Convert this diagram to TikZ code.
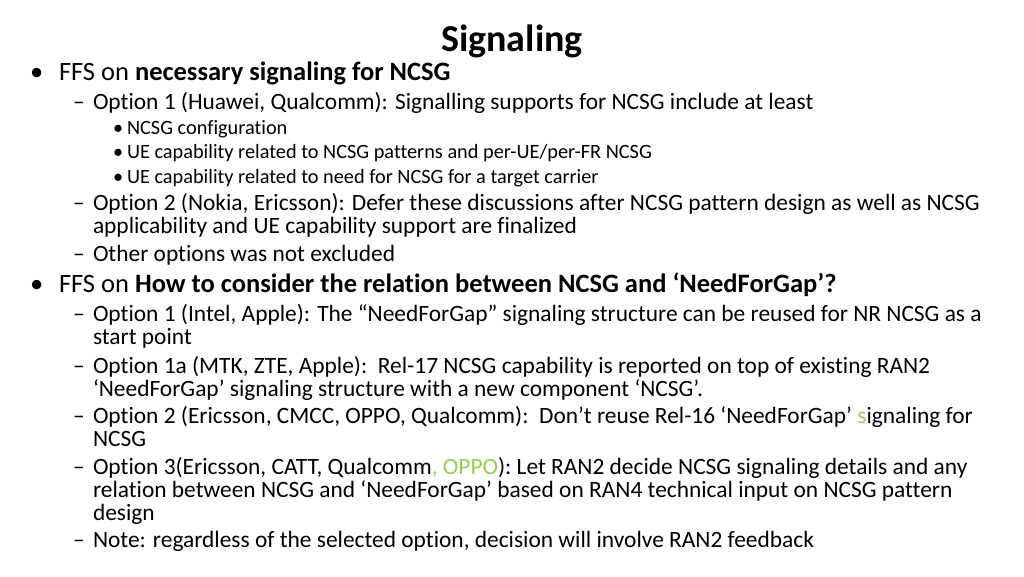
\documentclass[tikz,border=0pt]{standalone}
\usepackage{fontspec}
\setmainfont{Carlito}[Ligatures=NoCommon]
\definecolor{tgreen}{HTML}{92D050}
\begin{document}
\begin{tikzpicture}[x=1pt,y=-1pt,
  t/.style={anchor=base west,inner sep=0pt,outer sep=0pt},
  la/.style={t,font=\fontsize{26.5}{30}\selectfont},
  lb/.style={t,font=\fontsize{23.4}{26}\selectfont},
  lc/.style={t,font=\fontsize{20.3}{23}\selectfont}]
\useasboundingbox (0,0) rectangle (1024,576);
\node[anchor=base,inner sep=0pt,font=\fontsize{38}{42}\selectfont\bfseries] (title) at (512,51) {Signaling};
% level 1
\node[la] (b1) at (30,80) {•};
\node[la] (l1) at (59,80) {FFS on \textbf{necessary signaling for NCSG}};
\node[lb] (d1) at (73,109) {–};
\node[lb] (l2) at (93,109) {Option 1 (Huawei, Qualcomm): Signalling supports for NCSG include at least};
\node[lc] (b3) at (113,134) {•};
\node[lc] (l3) at (127,134) {NCSG configuration};
\node[lc] (b4) at (113,158) {•};
\node[lc] (l4) at (127,158) {UE capability related to NCSG patterns and per-UE/per-FR NCSG};
\node[lc] (b5) at (113,183) {•};
\node[lc] (l5) at (127,183) {UE capability related to need for NCSG for a target carrier};
\node[lb] (d2) at (73,210) {–};
\node[lb] (l6) at (93,210) {Option 2 (Nokia, Ericsson): Defer these discussions after NCSG pattern design as well as NCSG};
\node[lb] (l7) at (93,233) {applicability and UE capability support are finalized};
\node[lb] (d3) at (73,261) {–};
\node[lb] (l8) at (93,261) {Other options was not excluded};
% level 1 second
\node[la] (b2) at (30,292) {•};
\node[la] (l9) at (59,292) {FFS on \textbf{How to consider the relation between NCSG and ‘NeedForGap’?}};
\node[lb] (d4) at (73,321) {–};
\node[lb] (l10) at (93,321) {Option 1 (Intel, Apple): The “NeedForGap” signaling structure can be reused for NR NCSG as a};
\node[lb] (l11) at (93,344) {start point};
\node[lb] (d5) at (73,373) {–};
\node[lb] (l12) at (93,373) {Option 1a (MTK, ZTE, Apple):\ \ Rel-17 NCSG capability is reported on top of existing RAN2};
\node[lb] (l13) at (93,396) {‘NeedForGap’ signaling structure with a new component ‘NCSG’.};
\node[lb] (d6) at (73,423) {–};
\node[lb] (l14) at (93,423) {Option 2 (Ericsson, CMCC, OPPO, Qualcomm):\ \ Don’t reuse Rel-16 ‘NeedForGap’ \textcolor{tgreen}{s}ignaling for};
\node[lb] (l15) at (93,446) {NCSG};
\node[lb] (d7) at (73,474) {–};
\node[lb] (l16) at (93,474) {Option 3(Ericsson, CATT, Qualcomm\textcolor{tgreen}{, OPPO}): Let RAN2 decide NCSG signaling details and any};
\node[lb] (l17) at (93,497) {relation between NCSG and ‘NeedForGap’ based on RAN4 technical input on NCSG pattern};
\node[lb] (l18) at (93,520) {design};
\node[lb] (d8) at (73,547) {–};
\node[lb] (l19) at (93,547) {Note: regardless of the selected option, decision will involve RAN2 feedback};
\end{tikzpicture}
\end{document}
